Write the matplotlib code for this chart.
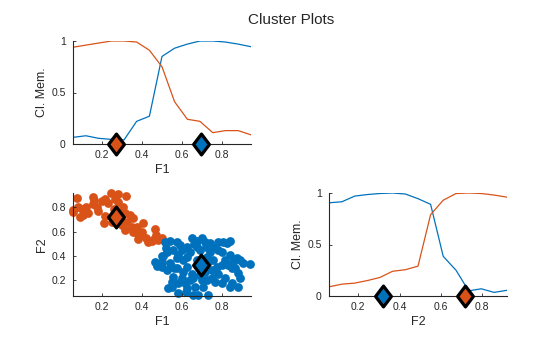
import matplotlib
matplotlib.use("Agg")
import matplotlib.pyplot as plt
from matplotlib.path import Path

plt.rcParams['font.family'] = ['Liberation Sans', 'DejaVu Sans']

BLUE = '#0072BD'
ORANGE = '#D95319'
INK = '#262626'

# Membership curves along F1
f1_grid = [0.057, 0.120, 0.184, 0.247, 0.311, 0.374, 0.438, 0.501,
           0.564, 0.628, 0.691, 0.755, 0.818, 0.882, 0.945]
f1_mem_orange = [0.94, 0.96, 0.98, 1.00, 1.00, 0.99, 0.91, 0.75,
                 0.41, 0.24, 0.22, 0.11, 0.13, 0.13, 0.09]
f1_mem_blue = [0.065, 0.08, 0.055, 0.045, 0.04, 0.22, 0.27, 0.85,
               0.93, 0.97, 1.00, 1.00, 0.99, 0.97, 0.945]

# Membership curves along F2
f2_grid = [0.060, 0.121, 0.183, 0.244, 0.305, 0.366, 0.428, 0.489,
           0.550, 0.611, 0.673, 0.734, 0.795, 0.857, 0.918]
f2_mem_blue = [0.905, 0.915, 0.97, 0.985, 0.995, 1.00, 0.99, 0.945,
               0.89, 0.385, 0.25, 0.05, 0.07, 0.035, 0.055]
f2_mem_orange = [0.09, 0.115, 0.125, 0.15, 0.18, 0.24, 0.255, 0.29,
                 0.79, 0.93, 0.995, 1.00, 0.995, 0.98, 0.96]

# Cluster centres (F1, F2)
center_orange = (0.272, 0.717)
center_blue = (0.697, 0.322)

# Cluster members
orange_f1 = [0.075, 0.058, 0.083, 0.100, 0.092, 0.133, 0.158, 0.163, 0.158,
             0.183, 0.217, 0.247, 0.283, 0.320, 0.233, 0.217, 0.212, 0.250,
             0.317, 0.342, 0.358, 0.325, 0.317, 0.350, 0.375, 0.408, 0.375,
             0.383, 0.433, 0.462, 0.472, 0.467, 0.483, 0.500, 0.283, 0.308,
             0.175, 0.108, 0.057, 0.358, 0.392, 0.275, 0.292,
             0.120, 0.200, 0.262, 0.300, 0.420, 0.450, 0.400, 0.268]
orange_f2 = [0.874, 0.764, 0.800, 0.783, 0.723, 0.750, 0.883, 0.861, 0.828,
             0.772, 0.866, 0.916, 0.910, 0.894, 0.833, 0.728, 0.668, 0.682,
             0.750, 0.737, 0.709, 0.682, 0.613, 0.640, 0.640, 0.673, 0.585,
             0.536, 0.511, 0.536, 0.572, 0.618, 0.530, 0.544, 0.847, 0.805,
             0.805, 0.737, 0.780, 0.599, 0.572, 0.750, 0.700,
             0.800, 0.850, 0.790, 0.650, 0.550, 0.520, 0.600, 0.870]

blue_f1 = [0.517, 0.542, 0.575, 0.592, 0.650, 0.675, 0.700, 0.717, 0.742,
           0.758, 0.783, 0.808, 0.825, 0.842, 0.625, 0.642, 0.675, 0.692,
           0.525, 0.558, 0.583, 0.575, 0.467, 0.475, 0.500, 0.500, 0.525,
           0.542, 0.508, 0.608, 0.625, 0.608, 0.575, 0.558, 0.600, 0.583,
           0.550, 0.533, 0.583, 0.625, 0.617, 0.642, 0.658, 0.667, 0.658,
           0.683, 0.708, 0.733, 0.725, 0.750, 0.767, 0.750, 0.775, 0.758,
           0.800, 0.817, 0.833, 0.858, 0.875, 0.892, 0.908, 0.942, 0.867,
           0.883, 0.892, 0.883, 0.850, 0.842, 0.817, 0.800, 0.725, 0.742,
           0.800, 0.842, 0.675, 0.692, 0.717, 0.625,
           0.520, 0.600, 0.660, 0.720, 0.780, 0.850, 0.700, 0.650, 0.560,
           0.500, 0.730, 0.780, 0.700, 0.620, 0.550]
blue_f2 = [0.516, 0.525, 0.516, 0.489, 0.544, 0.525, 0.544, 0.516, 0.503,
           0.475, 0.516, 0.516, 0.503, 0.522, 0.475, 0.434, 0.475, 0.448,
           0.434, 0.448, 0.406, 0.379, 0.351, 0.316, 0.305, 0.351, 0.283,
           0.338, 0.398, 0.365, 0.310, 0.269, 0.296, 0.227, 0.214, 0.172,
           0.145, 0.131, 0.090, 0.131, 0.172, 0.200, 0.214, 0.145, 0.076,
           0.076, 0.145, 0.076, 0.200, 0.214, 0.186, 0.283, 0.310, 0.365,
           0.324, 0.365, 0.324, 0.351, 0.379, 0.365, 0.338, 0.329, 0.296,
           0.255, 0.214, 0.145, 0.172, 0.145, 0.214, 0.172, 0.393, 0.434,
           0.434, 0.406, 0.365, 0.241, 0.269, 0.393,
           0.460, 0.450, 0.500, 0.470, 0.450, 0.300, 0.280, 0.250, 0.300,
           0.400, 0.350, 0.250, 0.200, 0.100, 0.180]

# Slightly wide diamond marker
diamond = Path([(0, 1), (0.76, 0), (0, -1), (-0.76, 0), (0, 1)],
               [Path.MOVETO, Path.LINETO, Path.LINETO, Path.LINETO, Path.CLOSEPOLY])

fig = plt.figure(figsize=(5.6, 3.37), dpi=100)
W, H = 560, 337


def axes_px(x0, y0, x1, y1):
    return fig.add_axes([x0 / W, 1 - y1 / H, (x1 - x0) / W, (y1 - y0) / H])


def style(ax):
    for side in ('top', 'right'):
        ax.spines[side].set_visible(False)
    for side in ('left', 'bottom'):
        ax.spines[side].set_color(INK)
        ax.spines[side].set_linewidth(0.8)
    ax.tick_params(direction='in', length=2.5, width=0.6, colors=INK,
                   labelsize=7.5, labelcolor=INK)
    ax.tick_params(axis='x', pad=4.5)
    ax.tick_params(axis='y', pad=5.5)


def marker(ax, x, y, color):
    ax.plot([x], [y], marker=diamond, markersize=15, markerfacecolor=color,
            markeredgecolor='black', markeredgewidth=2.3, linestyle='none',
            clip_on=False, zorder=5)


# Membership along F1
ax1 = axes_px(73.3, 41, 250.7, 144)
ax1.plot(f1_grid, f1_mem_blue, color=BLUE, lw=0.9)
ax1.plot(f1_grid, f1_mem_orange, color=ORANGE, lw=0.9)
marker(ax1, center_orange[0], 0, ORANGE)
marker(ax1, center_blue[0], 0, BLUE)
ax1.set_xlim(0.057, 0.945)
ax1.set_ylim(0, 1)
ax1.set_xticks([0.2, 0.4, 0.6, 0.8])
ax1.set_xticklabels(['0.2', '0.4', '0.6', '0.8'])
ax1.set_yticks([0, 0.5, 1])
ax1.set_yticklabels(['0', '0.5', '1'])
ax1.set_xlabel('F1', fontsize=9, color=INK, labelpad=3)
ax1.set_ylabel('Cl. Mem.', fontsize=9, color=INK, labelpad=2.5)
style(ax1)

# Scatter of F1 vs F2
ax2 = axes_px(73.3, 193, 250.7, 296)
ax2.scatter(orange_f1, orange_f2, s=40, color=ORANGE, linewidths=0, clip_on=False)
ax2.scatter(blue_f1, blue_f2, s=40, color=BLUE, linewidths=0, clip_on=False)
marker(ax2, center_orange[0], center_orange[1], ORANGE)
marker(ax2, center_blue[0], center_blue[1], BLUE)
ax2.set_xlim(0.057, 0.945)
ax2.set_ylim(0.068, 0.918)
ax2.set_xticks([0.2, 0.4, 0.6, 0.8])
ax2.set_xticklabels(['0.2', '0.4', '0.6', '0.8'])
ax2.set_yticks([0.2, 0.4, 0.6, 0.8])
ax2.set_yticklabels(['0.2', '0.4', '0.6', '0.8'])
ax2.set_xlabel('F1', fontsize=9, color=INK, labelpad=3)
ax2.set_ylabel('F2', fontsize=9, color=INK, labelpad=2.5)
style(ax2)

# Membership along F2
ax3 = axes_px(329.3, 193, 506.7, 296)
ax3.plot(f2_grid, f2_mem_blue, color=BLUE, lw=0.9)
ax3.plot(f2_grid, f2_mem_orange, color=ORANGE, lw=0.9)
marker(ax3, center_blue[1], 0, BLUE)
marker(ax3, center_orange[1], 0, ORANGE)
ax3.set_xlim(0.060, 0.918)
ax3.set_ylim(0, 1)
ax3.set_xticks([0.2, 0.4, 0.6, 0.8])
ax3.set_xticklabels(['0.2', '0.4', '0.6', '0.8'])
ax3.set_yticks([0, 0.5, 1])
ax3.set_yticklabels(['0', '0.5', '1'])
ax3.set_xlabel('F2', fontsize=9, color=INK, labelpad=3)
ax3.set_ylabel('Cl. Mem.', fontsize=9, color=INK, labelpad=2.5)
style(ax3)

fig.text(291 / W, 1 - 20 / H, 'Cluster Plots', ha='center', va='center',
         fontsize=11, color=INK)

fig.savefig('out.png', dpi=100)
